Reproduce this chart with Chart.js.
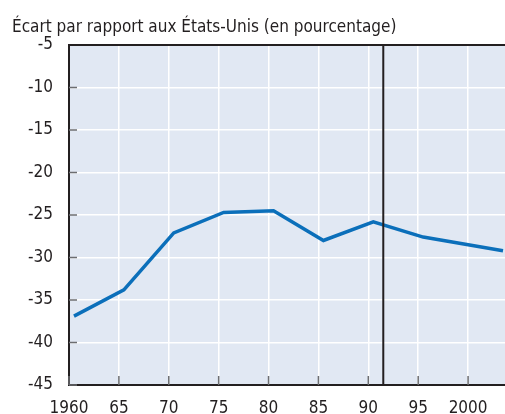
<!DOCTYPE html>
<html lang="fr">

<head>
    <meta charset="UTF-8">
    <title>Écart par rapport aux États-Unis</title>
    <script src="https://cdn.jsdelivr.net/npm/chart.js"></script>
    <style>
        html, body { margin: 0; padding: 0; background: #ffffff; }
        .graphe { width: 505px; height: 414px; position: relative; }
    </style>
</head>

<body>
    <div class="graphe">
        <canvas id="graphique"></canvas>
    </div>
</body>
<script>
    // données (valeur annuelle, tracée en milieu d'année)
    const annees = [1960, 1965, 1970, 1975, 1980, 1985, 1990, 1995, 2003];
    const ecart = [-36.9, -33.8, -27.1, -24.7, -24.5, -28.0, -25.8, -27.6, -29.2];
    const graduationsY = [-5, -10, -15, -20, -25, -30, -35, -40, -45];
    const anneeRupture = 1991.5;
    const titre = 'Écart par rapport aux États-Unis (en pourcentage)';

    const police = "'Liberation Sans Narrow', 'DejaVu Sans Condensed', 'Roboto', sans-serif";
    const texte = '#231f20';

    const points = annees.map((a, i) => ({ x: a + 0.5, y: ecart[i] }));
    const rupture = [
        { x: anneeRupture, y: Math.max(...graduationsY) },
        { x: anneeRupture, y: Math.min(...graduationsY) }
    ];

    const cadre = {
        id: 'cadre',
        beforeDraw(chart) {
            const { ctx, chartArea: a } = chart;
            ctx.save();
            ctx.fillStyle = '#e1e8f3';
            ctx.fillRect(a.left, a.top, a.right - a.left, a.bottom - a.top);
            ctx.restore();
        },
        afterDatasetsDraw(chart) {
            const { ctx, chartArea: a, scales } = chart;
            ctx.save();
            // petites graduations intérieures
            ctx.strokeStyle = '#6d6e71';
            ctx.lineWidth = 1.5;
            scales.x.ticks.forEach(t => {
                const px = scales.x.getPixelForValue(t.value);
                ctx.beginPath();
                ctx.moveTo(px, a.bottom);
                ctx.lineTo(px, a.bottom - 9);
                ctx.stroke();
            });
            scales.y.ticks.forEach(t => {
                const py = scales.y.getPixelForValue(t.value);
                ctx.beginPath();
                ctx.moveTo(a.left, py);
                ctx.lineTo(a.left + 8, py);
                ctx.stroke();
            });
            // bord du haut
            ctx.strokeStyle = texte;
            ctx.lineWidth = 2;
            ctx.beginPath();
            ctx.moveTo(a.left, a.top);
            ctx.lineTo(a.right, a.top);
            ctx.stroke();
            ctx.restore();
        },
        afterDraw(chart) {
            const ctx = chart.ctx;
            ctx.save();
            ctx.fillStyle = texte;
            ctx.font = '17px ' + police;
            ctx.textBaseline = 'alphabetic';
            ctx.textAlign = 'left';
            ctx.fillText(titre, 12, 32);
            ctx.restore();
        }
    };

    var ctx = document.getElementById('graphique').getContext('2d');
    var graphique = new Chart(ctx, {
        type: 'scatter',
        data: {
            datasets: [{
                label: 'Écart',
                data: points,
                showLine: true,
                borderColor: '#0b6fba',
                borderWidth: 3.5,
                pointRadius: 0,
                borderJoinStyle: 'miter',
                order: 2
            }, {
                label: 'Rupture',
                data: rupture,
                showLine: true,
                borderColor: texte,
                borderWidth: 2,
                pointRadius: 0,
                order: 1
            }]
        },
        options: {
            responsive: true,
            maintainAspectRatio: false,
            animation: false,
            layout: { padding: { top: 45, left: 0, right: 0, bottom: 0 } },
            plugins: {
                legend: { display: false },
                tooltip: { enabled: false }
            },
            scales: {
                x: {
                    type: 'linear',
                    min: 1960,
                    max: 2003.7,
                    afterFit(scale) { scale.height = 29; },
                    border: { display: true, color: texte, width: 2 },
                    grid: { color: '#ffffff', lineWidth: 1.5, drawTicks: false },
                    ticks: {
                        stepSize: 5,
                        includeBounds: false,
                        maxRotation: 0,
                        autoSkip: false,
                        padding: 13,
                        color: texte,
                        font: { family: police, size: 17 },
                        callback: v => (v === 1960 || v === 2000) ? String(v) : String(v).slice(2)
                    }
                },
                y: {
                    min: Math.min(...graduationsY),
                    max: Math.max(...graduationsY),
                    afterFit(scale) { scale.width = 69; },
                    border: { display: true, color: texte, width: 2 },
                    grid: { color: '#ffffff', lineWidth: 1.5, drawTicks: false },
                    ticks: {
                        stepSize: 5,
                        padding: 16,
                        color: texte,
                        font: { family: police, size: 17 },
                        callback: v => String(v)
                    }
                }
            }
        },
        plugins: [cadre]
    });
</script>

</html>
